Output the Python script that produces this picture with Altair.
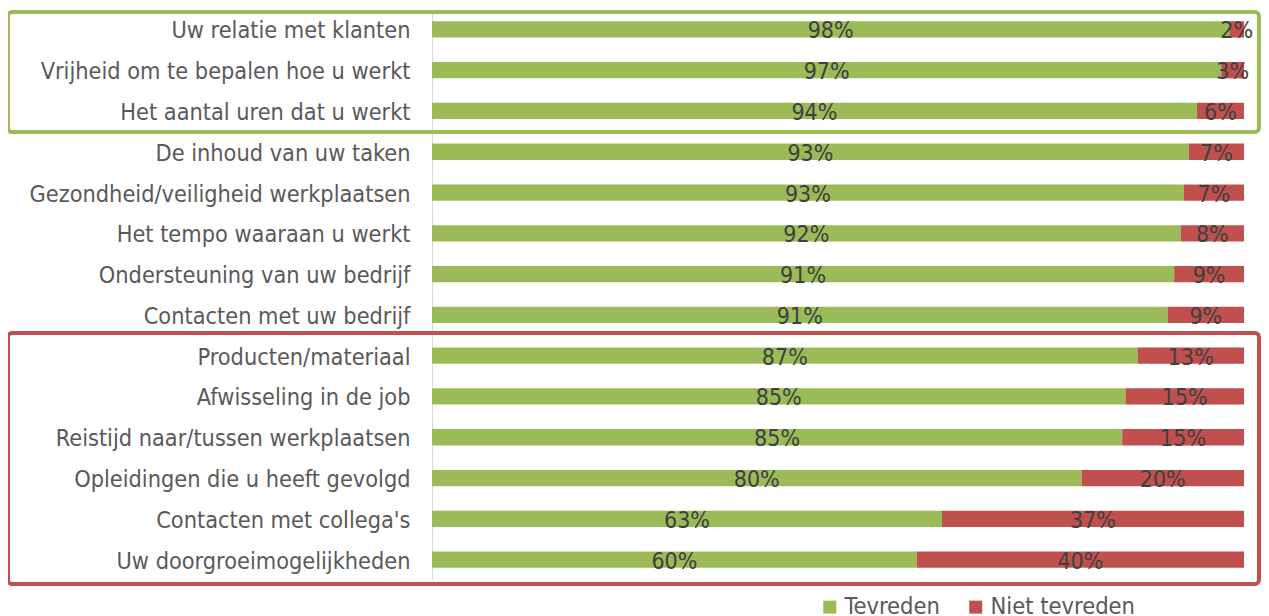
import altair as alt
import pandas as pd

categories = [
    "Uw relatie met klanten",
    "Vrijheid om te bepalen hoe u werkt",
    "Het aantal uren dat u werkt",
    "De inhoud van uw taken",
    "Gezondheid/veiligheid werkplaatsen",
    "Het tempo waaraan u werkt",
    "Ondersteuning van uw bedrijf",
    "Contacten met uw bedrijf",
    "Producten/materiaal ",
    "Afwisseling in de job",
    "Reistijd naar/tussen werkplaatsen",
    "Opleidingen die u heeft gevolgd",
    "Contacten met collega's",
    "Uw doorgroeimogelijkheden",
]
tevreden = [98.2, 97.2, 94.2, 93.2, 92.6, 92.2, 91.4, 90.6, 86.9, 85.4, 85.0, 80.0, 62.8, 59.7]
niet_tevreden = [1.8, 2.8, 5.8, 6.8, 7.4, 7.8, 8.6, 9.4, 13.1, 14.6, 15.0, 20.0, 37.2, 40.3]
tevreden_labels = ["98%", "97%", "94%", "93%", "93%", "92%", "91%", "91%", "87%", "85%", "85%", "80%", "63%", "60%"]
niet_labels = ["2%", "3%", "6%", "7%", "7%", "8%", "9%", "9%", "13%", "15%", "15%", "20%", "37%", "40%"]
series = ["Tevreden", "Niet tevreden"]
colors = ["#9BBB59", "#C0504D"]

rows = []
for i, c in enumerate(categories):
    g, r = tevreden[i], niet_tevreden[i]
    rows.append({"cat": c, "status": series[0], "start": 0, "end": g, "mid": g / 2, "label": tevreden_labels[i]})
    rows.append({"cat": c, "status": series[1], "start": g, "end": g + r, "mid": g + r / 2, "label": niet_labels[i]})
df = pd.DataFrame(rows)

FONT = "DejaVu Sans Condensed"

y_enc = alt.Y(
    "cat:N",
    sort=categories,
    title=None,
    scale=alt.Scale(paddingInner=0.6, paddingOuter=0.3),
    axis=alt.Axis(
        ticks=False,
        grid=False,
        domainColor="#D9D9D9",
        domainWidth=1,
        labelFont=FONT,
        labelFontSize=23.3,
        labelColor="#595959",
        labelPadding=22,
        labelOffset=2,
        labelLimit=500,
    ),
)
x_scale = alt.Scale(domain=[0, 100], nice=False, zero=True)

bars = alt.Chart(df).mark_bar().encode(
    y=y_enc,
    x=alt.X("start:Q", scale=x_scale, axis=None),
    x2="end:Q",
    color=alt.Color(
        "status:N",
        scale=alt.Scale(domain=series, range=colors),
        sort=series,
        legend=alt.Legend(
            title=None,
            orient="none",
            direction="horizontal",
            legendX=386,
            legendY=586,
            symbolType="square",
            symbolSize=169,
            symbolStrokeWidth=0,
            labelFont=FONT,
            labelFontSize=23.5,
            labelColor="#595959",
            labelOffset=3,
            columnPadding=24,
            padding=0,
        ),
    ),
)

texts = alt.Chart(df).mark_text(
    font=FONT, fontSize=23, color="#404040", baseline="middle", align="center", dy=2
).encode(
    y=alt.Y("cat:N", sort=categories),
    x=alt.X("mid:Q", scale=x_scale, axis=None),
    text="label:N",
)

box_df = pd.DataFrame({"k": [0]})
green_box = alt.Chart(box_df).mark_rect(
    filled=False, stroke="#9BBB59", strokeWidth=4, cornerRadius=4
).encode(x=alt.value(-424), x2=alt.value(827), y=alt.value(3), y2=alt.value(123))
red_box = alt.Chart(box_df).mark_rect(
    filled=False, stroke="#C0504D", strokeWidth=4, cornerRadius=4
).encode(x=alt.value(-424), x2=alt.value(827), y=alt.value(324), y2=alt.value(575))

chart = (
    alt.layer(bars, texts, green_box, red_box)
    .properties(
        width=812,
        height=571,
        background="white",
        autosize=alt.AutoSizeParams(type="none"),
        padding={"left": 424, "top": 1, "right": 17, "bottom": 36},
    )
    .configure_view(strokeWidth=0, stroke="transparent")
    .configure_axis(grid=False)
)

chart.save("out.html", embed_options={"renderer": "svg", "actions": False})
